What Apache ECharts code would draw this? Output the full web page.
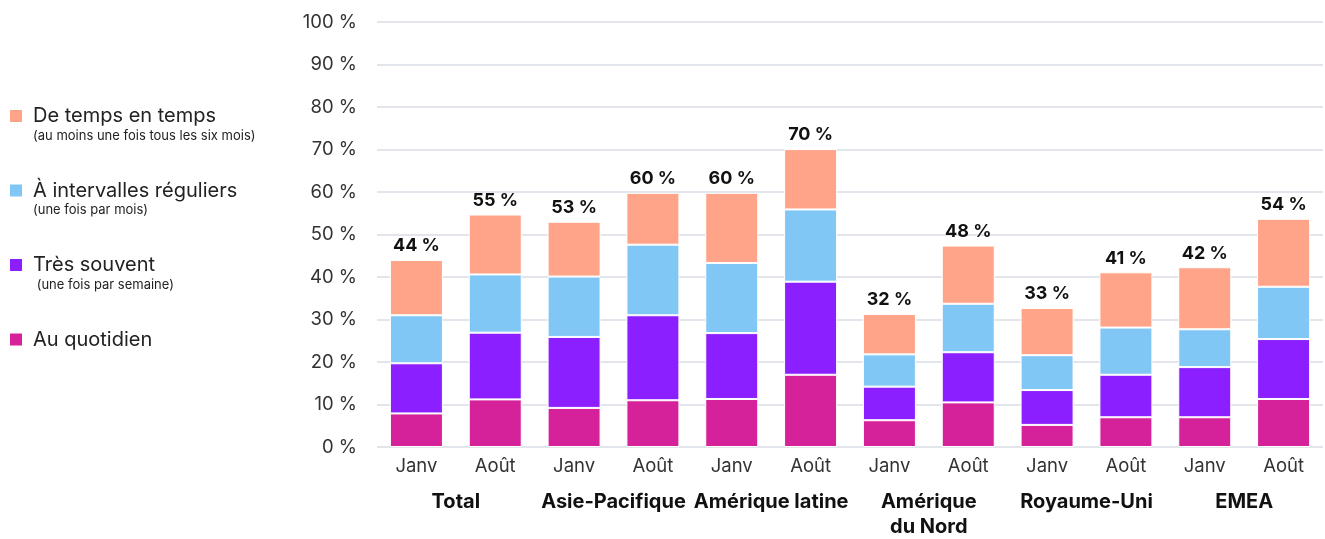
<!DOCTYPE html>
<html>
<head>
    <meta charset="utf-8">
    <title>Fréquence</title>
    <script src="https://cdn.jsdelivr.net/npm/echarts@6/dist/echarts.min.js"></script>
    <style>
        body { margin: 0; background: #fff; }
    </style>
</head>
<body>
    <div id="chart" style="width: 1325px;height:539px;"></div>
    <script type="text/javascript">
    // données
    var mois = ['Janv', 'Août', 'Janv', 'Août', 'Janv', 'Août', 'Janv', 'Août', 'Janv', 'Août', 'Janv', 'Août'];
    var regions = ['Total', 'Asie-Pacifique', 'Amérique latine', 'Amérique\ndu Nord', 'Royaume-Uni', 'EMEA'];
    var quotidien = [7.9, 11.2, 9.2, 11.0, 11.3, 17.0, 6.3, 10.5, 5.2, 7.0, 7.0, 11.3];
    var souvent = [11.8, 15.7, 16.7, 20.0, 15.5, 21.9, 7.9, 11.8, 8.2, 10.0, 11.8, 14.1];
    var reguliers = [11.3, 13.7, 14.2, 16.6, 16.5, 17.0, 7.6, 11.4, 8.2, 11.1, 8.9, 12.3];
    var temps = [13.0, 14.1, 12.9, 12.2, 16.5, 14.2, 9.5, 13.7, 11.1, 13.0, 14.6, 16.0];
    var totaux = [44, 55, 53, 60, 60, 70, 32, 48, 33, 41, 42, 54];

    var sousTitres = {
        'De temps en temps': '(au moins une fois tous les six mois)',
        'À intervalles réguliers': '(une fois par mois)',
        'Très souvent': ' (une fois par semaine)',
        'Au quotidien': ''
    };

    var chart = echarts.init(document.getElementById('chart'));
    var police = 'Inter, "Noto Sans", sans-serif';

    function serie(nom, data, couleur) {
        return {
            name: nom,
            type: 'bar',
            stack: 'total',
            data: data,
            barWidth: 53,
            itemStyle: { color: couleur, borderColor: '#fff', borderWidth: 1 }
        };
    }

    var sTemps = serie('De temps en temps', temps, '#ffa489');
    sTemps.label = {
        show: true,
        position: 'top',
        distance: 5,
        fontFamily: police,
        fontSize: 18,
        fontWeight: 'bold',
        color: '#111',
        formatter: function (p) { return totaux[p.dataIndex] + ' %'; }
    };

    chart.setOption({
        animation: false,
        textStyle: { fontFamily: police },
        grid: { left: 377, right: 2, top: 22, bottom: 91.5 },
        legend: {
            orient: 'vertical',
            left: 8,
            top: 88,
            padding: 0,
            itemWidth: 14,
            itemHeight: 14,
            itemGap: 20,
            icon: 'rect',
            selectedMode: false,
            data: ['De temps en temps', 'À intervalles réguliers', 'Très souvent', 'Au quotidien'],
            formatter: function (name) {
                return '{e|}\n{a|' + name + '}\n{b|' + (sousTitres[name] || ' ') + '}';
            },
            textStyle: {
                rich: {
                    e: { height: 16, lineHeight: 16 },
                    a: { fontSize: 20, lineHeight: 24, color: '#222', fontFamily: police, padding: [0, 0, 0, 5] },
                    b: { fontSize: 13, lineHeight: 16, color: '#222', fontFamily: police, padding: [0, 0, 0, 5] }
                }
            }
        },
        xAxis: [{
            type: 'category',
            data: mois,
            axisLine: { show: false },
            axisTick: { show: false },
            axisLabel: { fontSize: 18.5, color: '#333', margin: 10, interval: 0, fontFamily: police }
        }, {
            type: 'category',
            data: regions,
            position: 'bottom',
            offset: 32,
            axisLine: { show: false },
            axisTick: { show: false },
            splitLine: { show: false },
            axisLabel: { fontSize: 20, fontWeight: 'bold', color: '#111', margin: 10, interval: 0, lineHeight: 25, fontFamily: police }
        }],
        yAxis: {
            type: 'value',
            min: 0,
            max: 100,
            interval: 10,
            axisLine: { show: false },
            axisTick: { show: false },
            axisLabel: {
                fontSize: 18.5, color: '#333', margin: 20, fontFamily: police,
                formatter: function (v) { return v + ' %'; }
            },
            splitLine: { lineStyle: { color: '#e3e5ec', width: 2 } }
        },
        series: [
            serie('Au quotidien', quotidien, '#d5229b'),
            serie('Très souvent', souvent, '#8b1fff'),
            serie('À intervalles réguliers', reguliers, '#81c7f5'),
            sTemps
        ]
    });
    </script>
</body>
</html>
